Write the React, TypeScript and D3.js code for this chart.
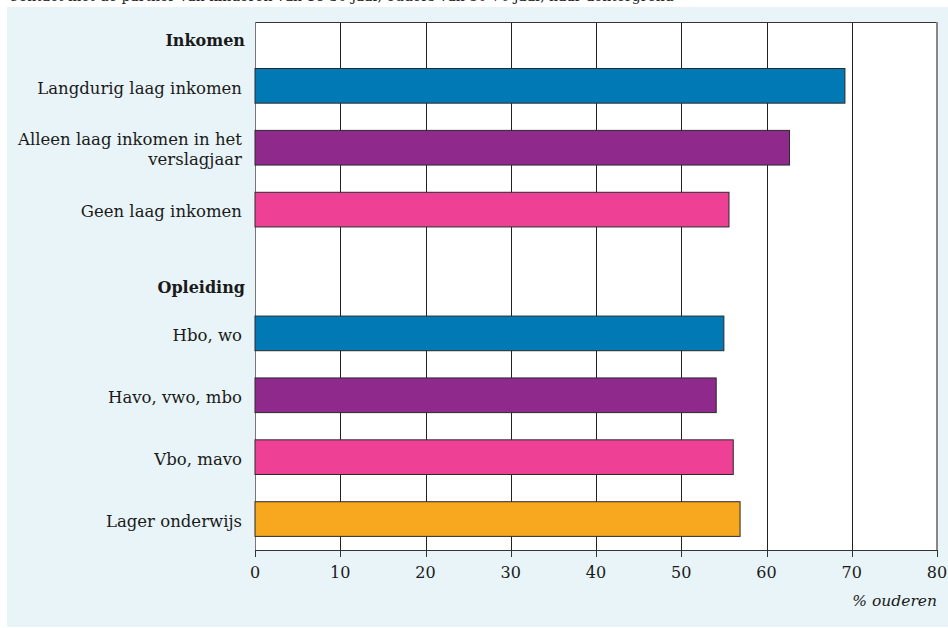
import React from "react";
import * as d3 from "d3";

const categories = [
  "Inkomen",
  "Langdurig laag inkomen",
  "Alleen laag inkomen in het verslagjaar",
  "Geen laag inkomen",
  "Opleiding",
  "Hbo, wo",
  "Havo, vwo, mbo",
  "Vbo, mavo",
  "Lager onderwijs",
];
const headers = ["Inkomen", "Opleiding"];
const labelLines: Record<string, string[]> = {
  "Alleen laag inkomen in het verslagjaar": ["Alleen laag inkomen in het", "verslagjaar"],
};
const values: (number | null)[] = [null, 69.2, 62.7, 55.6, null, 55.0, 54.1, 56.1, 56.9];
const barColors = ["", "#0079b4", "#8f2a8c", "#ee4094", "", "#0079b4", "#8f2a8c", "#ee4094", "#f7a81e"];
const xTicks = [0, 10, 20, 30, 40, 50, 60, 70, 80];
const xTitle = "% ouderen";
const topText = "Contact met de partner van kinderen van 18-30 jaar, ouders van 50-70 jaar, naar achtergrond";

const W = 948;
const H = 628;
const FONT = "'DejaVu Serif', 'Liberation Serif', serif";

export default function App() {
  const x = d3.scaleLinear().domain([0, 80]).range([255, 937]);
  const y = d3
    .scaleBand<string>()
    .domain(categories)
    .range([-7, 550])
    .paddingInner(0.44)
    .paddingOuter(0.22);
  const plotTop = 22;
  const plotBottom = 550;
  return (
    <div style={{ position: "absolute", left: 0, top: 0 }}>
      <svg width={W} height={H} style={{ display: "block" }}>
        <rect x={0} y={0} width={W} height={H} fill="#ffffff" />
        <rect x={7} y={7} width={W - 7} height={620} fill="#e8f4f7" />
        <text x={8} y={1} fontFamily={FONT} fontSize={14} fill="#222">
          {topText}
        </text>
        {/* plot area */}
        <rect x={x(0)} y={plotTop} width={x(80) - x(0)} height={plotBottom - plotTop} fill="#ffffff" />
        {/* gridlines */}
        {xTicks.slice(1, -1).map((t) => (
          <line key={"g" + t} x1={Math.round(x(t)) + 0.5} x2={Math.round(x(t)) + 0.5} y1={plotTop} y2={plotBottom} stroke="#222" strokeWidth={1} />
        ))}
        <line x1={x(0)} x2={x(80)} y1={plotTop + 0.5} y2={plotTop + 0.5} stroke="#333" strokeWidth={1.2} />
        <line x1={Math.round(x(0)) + 0.5} x2={Math.round(x(0)) + 0.5} y1={plotTop} y2={plotBottom} stroke="#777" strokeWidth={1} />
        <line x1={x(80)} x2={x(80)} y1={plotTop} y2={plotBottom} stroke="#888" strokeWidth={2} />
        {/* bars */}
        {categories.map((c, i) =>
          values[i] == null ? null : (
            <rect
              key={"b" + c}
              x={x(0)}
              y={y(c)!}
              width={x(values[i] as number) - x(0)}
              height={y.bandwidth()}
              fill={barColors[i]}
              stroke="#2a2a2a"
              strokeWidth={1}
            />
          )
        )}
        {/* category labels */}
        {categories.map((c) => {
          const cy = y(c)! + y.bandwidth() / 2;
          if (headers.includes(c)) {
            return (
              <text key={"l" + c} x={245} y={cy + 16} dy="0.35em" textAnchor="end" fontFamily={FONT} fontSize={16} fontWeight="bold" fill="#1a1a1a">
                {c}
              </text>
            );
          }
          const lines = labelLines[c] || [c];
          const lh = 20;
          return (
            <text key={"l" + c} x={242} textAnchor="end" fontFamily={FONT} fontSize={16.5} fill="#1a1a1a">
              {lines.map((ln, k) => (
                <tspan key={k} x={242} y={cy + (k - (lines.length - 1) / 2) * lh + 2} dy="0.35em">
                  {ln}
                </tspan>
              ))}
            </text>
          );
        })}
        {/* x axis */}
        <line x1={x(0)} x2={x(80)} y1={plotBottom + 0.5} y2={plotBottom + 0.5} stroke="#333" strokeWidth={1} />
        {xTicks.map((t) => (
          <g key={"t" + t}>
            <line x1={Math.round(x(t)) + 0.5} x2={Math.round(x(t)) + 0.5} y1={plotBottom} y2={plotBottom + 7} stroke="#333" strokeWidth={1} />
            <text x={x(t)} y={578} textAnchor="middle" fontFamily={FONT} fontSize={16} fill="#1a1a1a">
              {t}
            </text>
          </g>
        ))}
        <text x={x(80)} y={606} textAnchor="end" fontFamily={FONT} fontSize={15.5} fontStyle="italic" fill="#1a1a1a">
          {xTitle}
        </text>
      </svg>
    </div>
  );
}
